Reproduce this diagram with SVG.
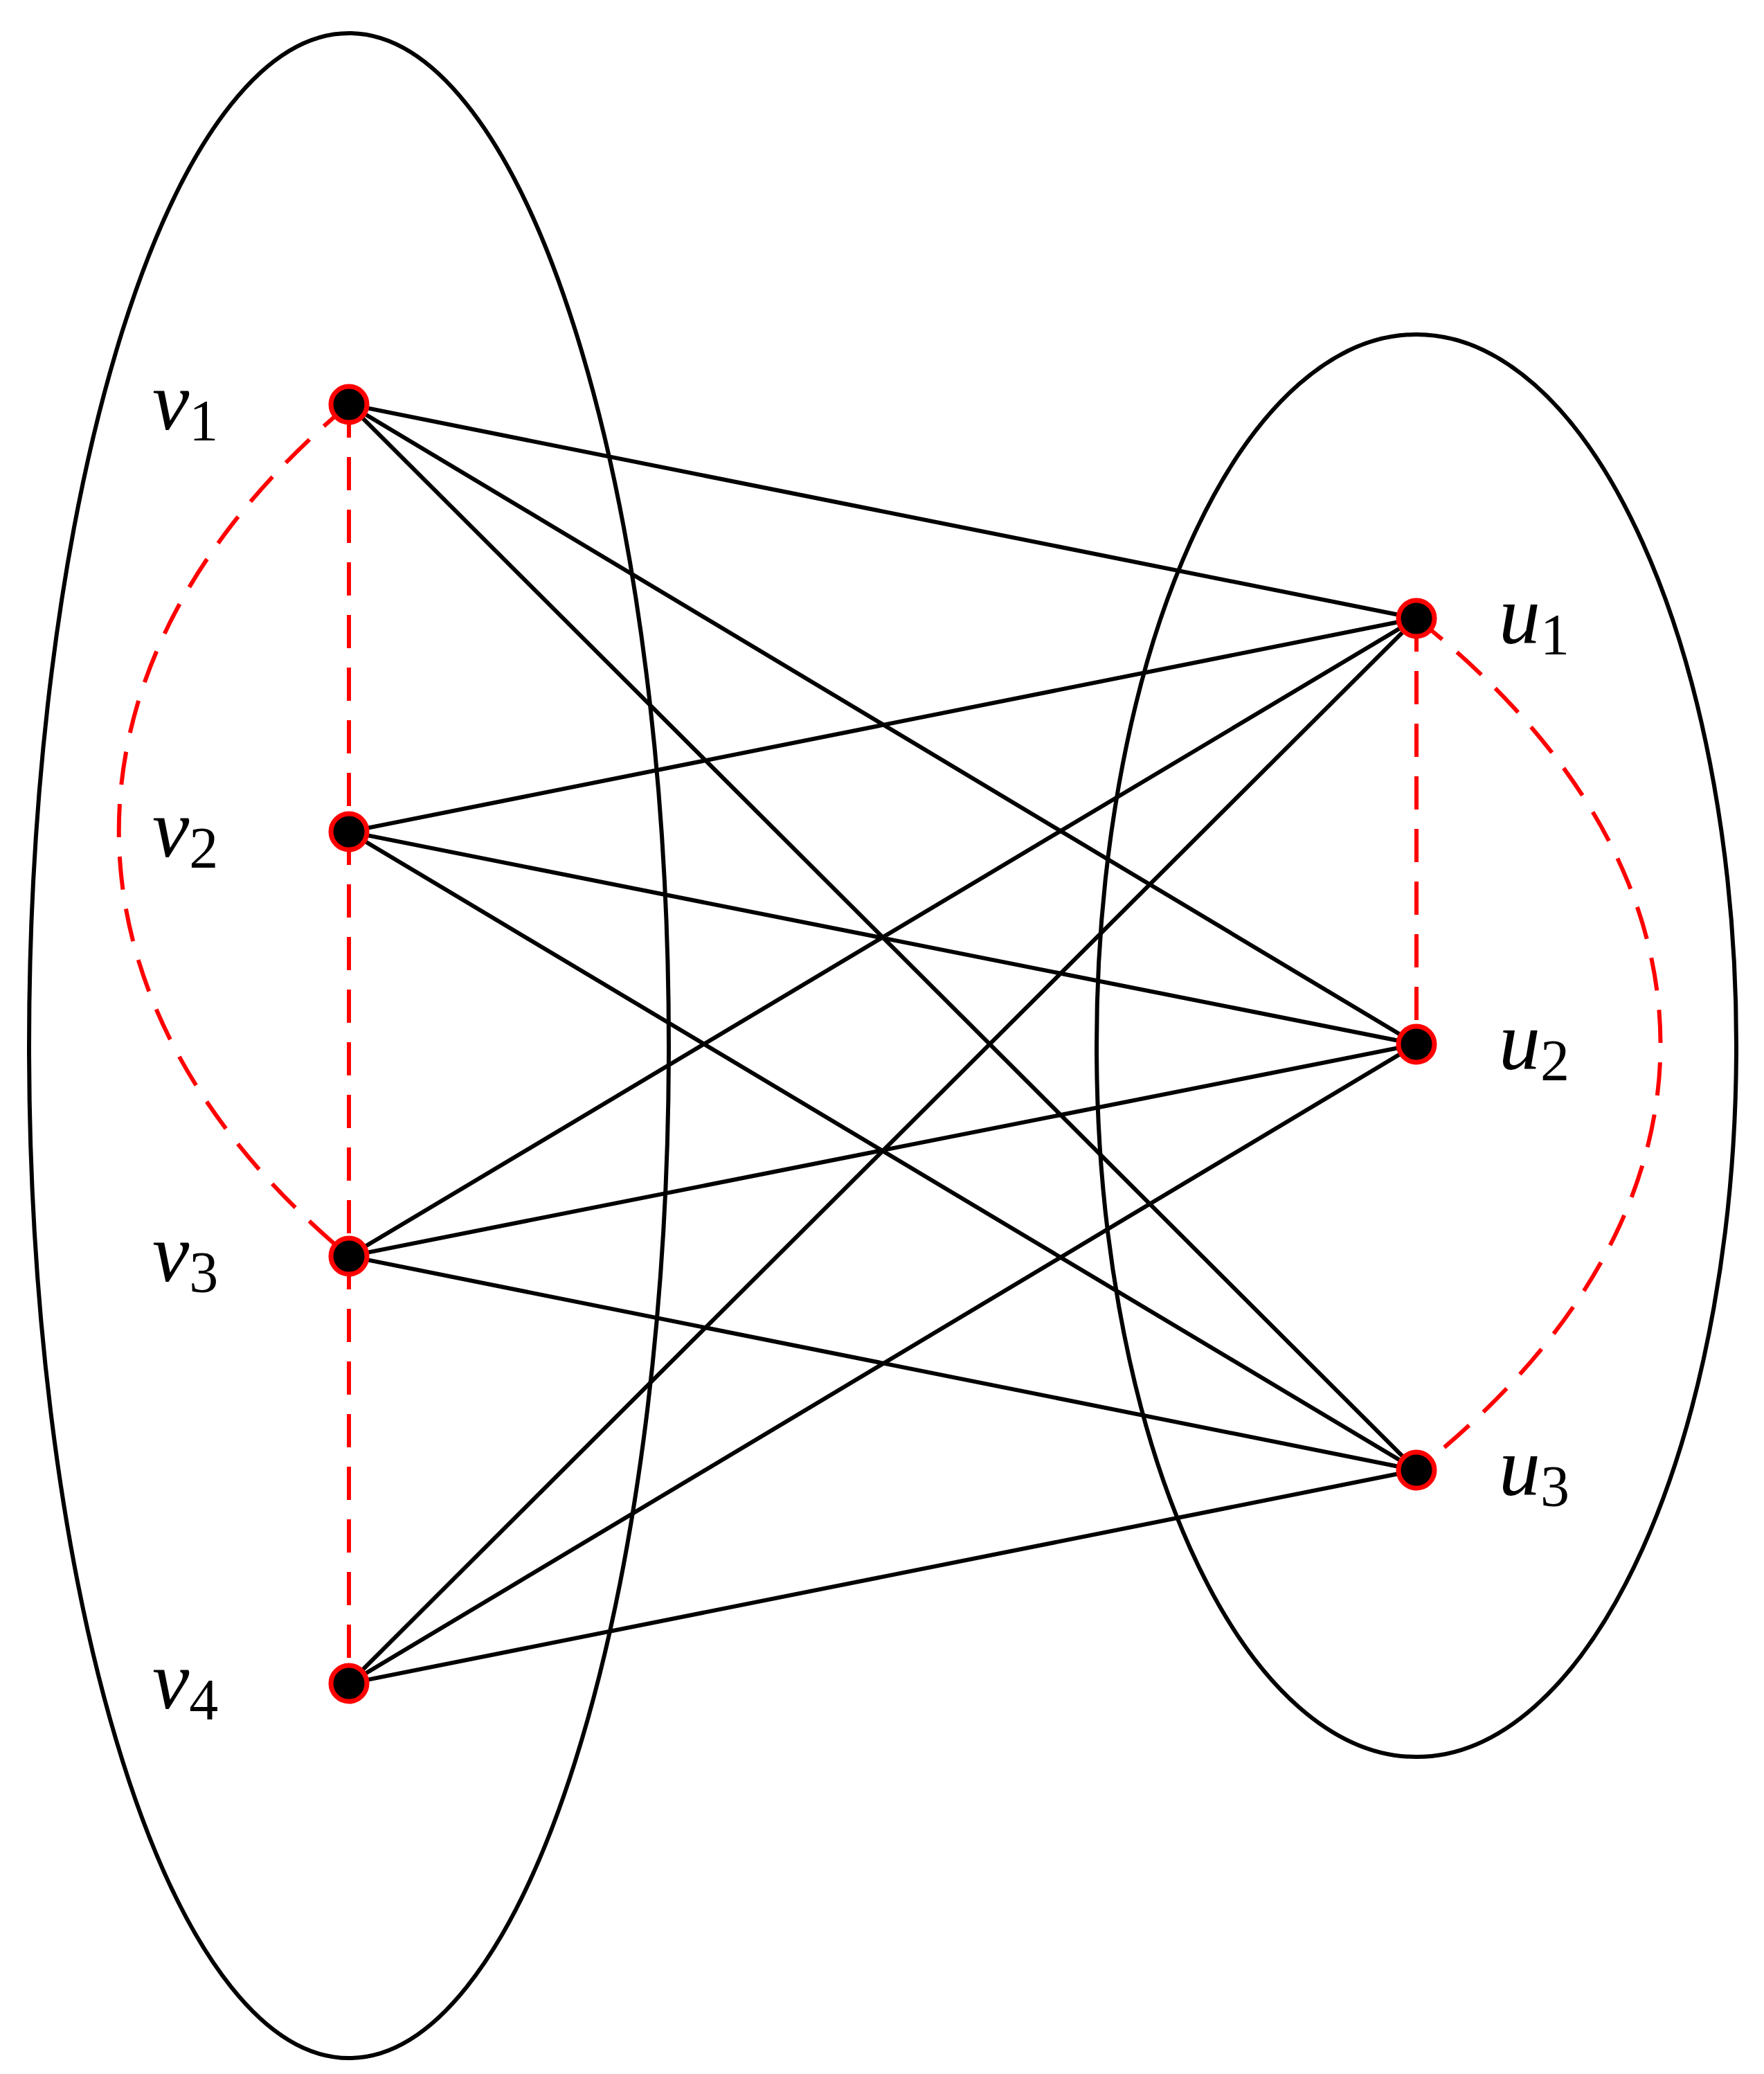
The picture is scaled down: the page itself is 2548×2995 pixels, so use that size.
<svg xmlns="http://www.w3.org/2000/svg" width="2548" height="2995" viewBox="0 0 2548 2995">
<style>
.ell{fill:none;stroke:#000;stroke-width:6}
.e{stroke:#000;stroke-width:6;fill:none}
.d{stroke:#f00;stroke-width:6;fill:none;stroke-dasharray:48 28}
.n{fill:#000;stroke:#f00;stroke-width:7}
.t{font-family:"Liberation Serif",serif;font-style:italic;font-size:120px}
.s{font-style:normal;font-size:84px}
</style>
<rect width="2548" height="2995" fill="#fff"/>
<g id="setV"><ellipse class="ell" cx="504" cy="1510" rx="462" ry="1462"/></g>
<g id="setU"><ellipse class="ell" cx="2046" cy="1510" rx="462" ry="1027"/></g>
<g id="connectors">
<line class="e" x1="504" y1="584" x2="2046" y2="893"/>
<line class="e" x1="504" y1="584" x2="2046" y2="1508"/>
<line class="e" x1="504" y1="584" x2="2046" y2="2123"/>
<line class="e" x1="504" y1="1201" x2="2046" y2="893"/>
<line class="e" x1="504" y1="1201" x2="2046" y2="1508"/>
<line class="e" x1="504" y1="1201" x2="2046" y2="2123"/>
<line class="e" x1="504" y1="1814" x2="2046" y2="893"/>
<line class="e" x1="504" y1="1814" x2="2046" y2="1508"/>
<line class="e" x1="504" y1="1814" x2="2046" y2="2123"/>
<line class="e" x1="504" y1="2431" x2="2046" y2="893"/>
<line class="e" x1="504" y1="2431" x2="2046" y2="1508"/>
<line class="e" x1="504" y1="2431" x2="2046" y2="2123"/>
<line class="d" x1="504" y1="584" x2="504" y2="1201"/>
<line class="d" x1="504" y1="1201" x2="504" y2="1814"/>
<line class="d" x1="504" y1="1814" x2="504" y2="2431"/>
<line class="d" x1="2046" y1="893" x2="2046" y2="1508"/>
<path class="d" d="M504 584 C61 955 61 1445 504 1814"/>
<path class="d" d="M2046 893 C2516 1263 2516 1753 2046 2123"/>
</g>
<g id="v1"><circle class="n" cx="504" cy="584" r="26"/><text class="t" x="220" y="620">v<tspan class="s" dy="16">1</tspan></text></g>
<g id="v2"><circle class="n" cx="504" cy="1201" r="26"/><text class="t" x="220" y="1237">v<tspan class="s" dy="16">2</tspan></text></g>
<g id="v3"><circle class="n" cx="504" cy="1814" r="26"/><text class="t" x="220" y="1850">v<tspan class="s" dy="16">3</tspan></text></g>
<g id="v4"><circle class="n" cx="504" cy="2431" r="26"/><text class="t" x="220" y="2467">v<tspan class="s" dy="16">4</tspan></text></g>
<g id="u1"><circle class="n" cx="2046" cy="893" r="26"/><text class="t" x="2165" y="929">u<tspan class="s" dy="16">1</tspan></text></g>
<g id="u2"><circle class="n" cx="2046" cy="1508" r="26"/><text class="t" x="2165" y="1544">u<tspan class="s" dy="16">2</tspan></text></g>
<g id="u3"><circle class="n" cx="2046" cy="2123" r="26"/><text class="t" x="2165" y="2159">u<tspan class="s" dy="16">3</tspan></text></g>
</svg>
